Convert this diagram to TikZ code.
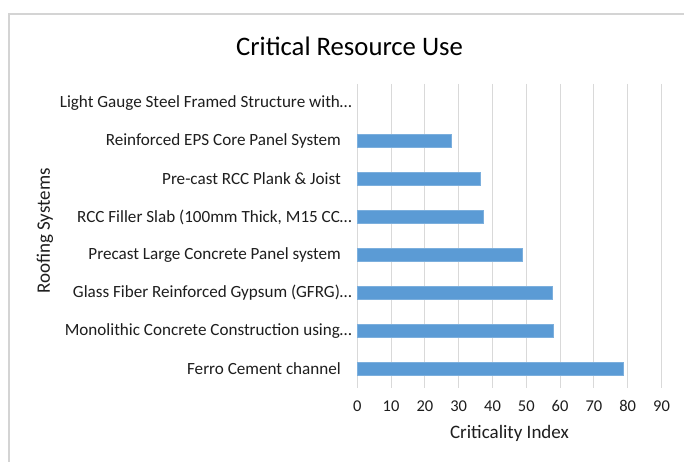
\documentclass[tikz,border=0pt]{standalone}
\usepackage{fontspec}
\setmainfont{Carlito}
\definecolor{barblue}{HTML}{5B9BD5}
\definecolor{gridgray}{HTML}{D9D9D9}
\definecolor{framegray}{HTML}{D4D4D4}
\definecolor{txt}{HTML}{1E1E1E}
\tikzset{
  gridline/.style={draw=gridgray, line width=0.9pt},
  databar/.style={fill=barblue, draw=barblue!80!white, line width=0.5pt},
  catlabel/.style={anchor=east, inner sep=0pt, text=txt, font=\fontsize{17.1}{19}\selectfont},
  ticklabel/.style={inner sep=0pt, text=txt, font=\fontsize{16.5}{18}\selectfont},
  axistitle/.style={inner sep=0pt, text=txt, font=\fontsize{19}{21}\selectfont},
  charttitle/.style={inner sep=0pt, text=black, font=\fontsize{26.7}{30}\selectfont},
}
\begin{document}
\begin{tikzpicture}[x=1pt, y=-1pt]
\useasboundingbox (0,0) rectangle (684,462);
\fill[white] (0,0) rectangle (684,462);
% chart frame (top and left edges)
\draw[draw=framegray, line width=2pt] (8.5,462) |- (684,14);

% title
\node[charttitle] (title) at (349.5,46) {Critical Resource Use};

% vertical gridlines and value labels
\foreach \k in {0,...,9}{
  \pgfmathsetmacro{\gx}{357.3+33.8*\k}
  \pgfmathtruncatemacro{\gv}{10*\k}
  \draw[gridline] (\gx,84) -- (\gx,388);
  \node[ticklabel] (tick\k) at (\gx,406) {\gv};
}

% category labels
\node[catlabel] (c1) at (352,103) {Light Gauge Steel Framed Structure with…};
\node[catlabel] (c2) at (341,141) {Reinforced EPS Core Panel System};
\node[catlabel] (c3) at (341,179) {Pre-cast RCC Plank \& Joist};
\node[catlabel] (c4) at (352,217) {RCC Filler Slab (100mm Thick, M15 CC…};
\node[catlabel] (c5) at (341,255) {Precast Large Concrete Panel system};
\node[catlabel] (c6) at (352,293) {Glass Fiber Reinforced Gypsum (GFRG)…};
\node[catlabel] (c7) at (352,331) {Monolithic Concrete Construction using…};
\node[catlabel] (c8) at (341,369) {Ferro Cement channel};

% bars: value * 3.38 px per unit
\foreach \yc/\v in {141/27.7, 179/36.4, 217/37.4, 255/48.9, 293/57.6, 331/57.9, 369/78.8}{
  \fill[databar] (357.3,\yc-6.6) rectangle ({357.3+3.38*\v},\yc+6.6);
}

% axis titles
\node[axistitle] (xtitle) at (509.5,433) {Criticality Index};
\node[axistitle, rotate=90] (ytitle) at (45,231) {Roofing Systems};
\end{tikzpicture}
\end{document}
